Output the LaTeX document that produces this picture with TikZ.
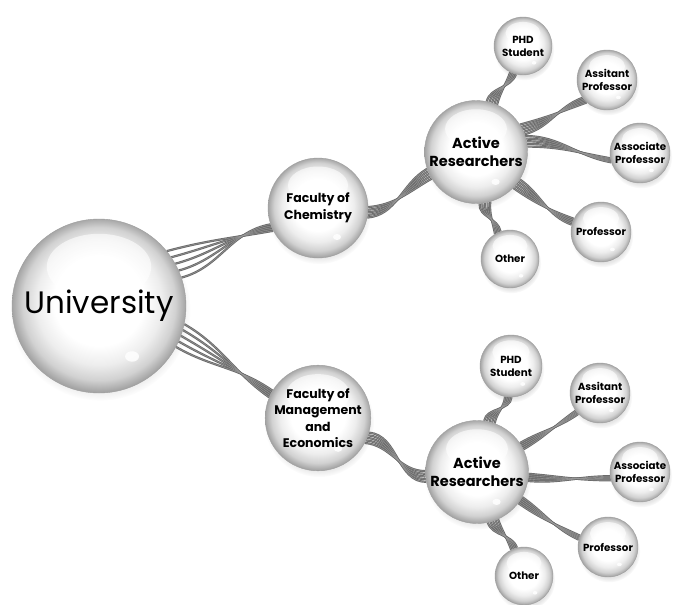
\documentclass[tikz,border=0pt]{standalone}
\usepackage{fontspec}
\setmainfont{Poppins}
\usetikzlibrary{calc,shadows,backgrounds}

% glassy bubble: bright core, grey rim
\pgfdeclareradialshading{bubble}{\pgfpoint{0bp}{3bp}}{%
  color(0bp)=(white); color(13bp)=(white); color(18bp)=(white!93!black);
  color(22bp)=(white!82!black); color(25bp)=(white!64!black); color(28bp)=(white!74!black)}

\tikzset{
  bubble/.style={circle, inner sep=0pt, minimum size=#1, shading=bubble,
    draw=white!62!black, line width=0.4pt, align=center,
    circular drop shadow={shadow xshift=1pt, shadow yshift=-4pt, opacity=0.2, shadow scale=1.04},
    path picture={
      \path (path picture bounding box.center) coordinate (pc)
            (path picture bounding box.north east) coordinate (pne);
      \fill[white, opacity=0.6] let \p1=($(pne)-(pc)$) in
        ($(pc)+(0,0.45*\y1)$) ellipse [x radius=0.6*\x1, y radius=0.38*\y1];
      \fill[white, opacity=0.85] let \p1=($(pne)-(pc)$) in
        ($(pc)+(0.38*\x1,-0.58*\y1)$) ellipse [x radius=0.08*\x1, y radius=0.06*\y1];
    }},
  huge/.style={bubble=174pt, font=\fontsize{31}{36}\selectfont},
  mid/.style={bubble=#1, font=\bfseries\fontsize{12.5}{16.5}\selectfont},
  hub/.style={bubble=103pt, font=\bfseries\fontsize{14.5}{18}\selectfont},
  leaf/.style={bubble=#1, font=\bfseries\fontsize{10.3}{13}\selectfont},
  cablebase/.style={line width=2.2pt, draw=black!58},
  cablehi/.style={line width=0.35pt, draw=white!62!black},
}

% a bundle of five strands between two bubbles
% #1 from, #2 to, #3/#4 start angle/step, #5/#6 end angle/step, #7 out, #8 in
\newcommand\drawcable[8]{%
  \foreach \k in {-2,-1,0,1,2}{%
    \pgfmathtruncatemacro\sa{#3+\k*#4}%
    \pgfmathtruncatemacro\ea{#5+\k*#6}%
    \draw[cablebase] (#1.\sa) to[out=#7,in=#8] (#2.\ea);
  }%
  \foreach \k in {-2,-1,0,1,2}{%
    \pgfmathtruncatemacro\sa{#3+\k*#4}%
    \pgfmathtruncatemacro\ea{#5+\k*#6}%
    \draw[cablehi] (#1.\sa) to[out=#7,in=#8] (#2.\ea);
  }%
}

\begin{document}
\begin{tikzpicture}[x=1pt, y=1pt]
\useasboundingbox (0,0) rectangle (683,-605);

% bubbles
\node[huge] (univ) at (99,-306) {University};

\node[mid=100pt] (chem) at (318,-208) {Faculty of\\Chemistry};
\node[mid=104pt] (mgmt) at (318,-418) {Faculty of\\Management\\and\\Economics};

\node[hub] (art) at (476,-152) {Active\\Researchers};
\node[hub] (arb) at (477,-472) {Active\\Researchers};

\node[leaf=58pt] (phdt) at (523,-46)  {PHD\\Student};
\node[leaf=60pt] (asst) at (607,-80)  {Assitant\\Professor};
\node[leaf=60pt] (asct) at (640,-153) {Associate\\Professor};
\node[leaf=60pt] (prot) at (601,-232) {Professor};
\node[leaf=58pt] (otht) at (510,-259) {Other};

\node[leaf=62pt] (phdb) at (511,-366) {PHD\\Student};
\node[leaf=60pt] (assb) at (600,-393) {Assitant\\Professor};
\node[leaf=60pt] (ascb) at (640,-472) {Associate\\Professor};
\node[leaf=60pt] (prob) at (608,-547) {Professor};
\node[leaf=58pt] (othb) at (524,-576) {Other};

% cables behind the bubbles
\begin{scope}[on background layer]
  \fill[white] (0,0) rectangle (683,-605);
  \drawcable{univ}{chem}{29}{5}{203}{2}{15}{190}
  \drawcable{univ}{mgmt}{-20}{4}{153}{2}{-30}{145}
  \drawcable{chem}{art}{-5}{3}{205}{3}{5}{210}
  \drawcable{mgmt}{arb}{-22}{3}{185}{3}{-5}{180}

  \drawcable{art}{phdt}{72}{3}{250}{3}{75}{250}
  \drawcable{art}{asst}{26}{3}{222}{3}{15}{200}
  \drawcable{art}{asct}{12}{3}{194}{2}{0}{170}
  \drawcable{art}{prot}{-38}{3}{160}{3}{-35}{160}
  \drawcable{art}{otht}{-80}{3}{115}{3}{-95}{100}

  \drawcable{arb}{phdb}{76}{3}{265}{3}{80}{265}
  \drawcable{arb}{assb}{30}{2}{220}{2}{30}{215}
  \drawcable{arb}{ascb}{-6}{2}{192}{2}{-5}{180}
  \drawcable{arb}{prob}{-33}{2}{162}{2}{-35}{155}
  \drawcable{arb}{othb}{-72}{3}{110}{3}{-70}{110}
\end{scope}
\end{tikzpicture}
\end{document}
